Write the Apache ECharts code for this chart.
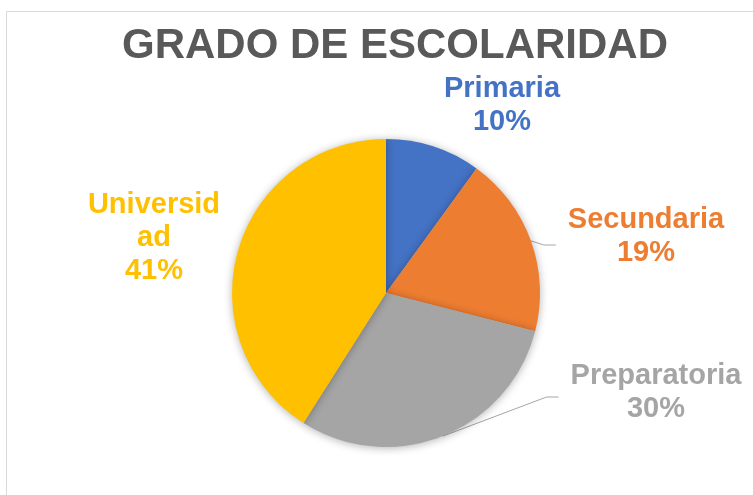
<!DOCTYPE html>
<html lang="es">
<head>
    <meta charset="UTF-8">
    <title>Grado de escolaridad</title>
    <script src="https://cdn.jsdelivr.net/npm/echarts@6/dist/echarts.min.js"></script>
    <style>
        html, body { margin: 0; padding: 0; background: #fff; }
        #main { width: 753px; height: 495px; }
    </style>
</head>
<body>
<div id="main"></div>
<script>
    // datos
    var categorias = ['Primaria', 'Secundaria', 'Preparatoria', 'Universidad'];
    var valores = [10, 19, 30, 41];
    var colores = ['#4472C4', '#ED7D31', '#A5A5A5', '#FFC000'];

    // posicion de cada etiqueta (centro del bloque de texto) y desfase vertical de la linea guia
    var posEtiquetas = [[502, 105], [646, 236], [656, 392], [154, 238]];
    var desfaseLinea = [0, 9, 5, 0];

    var chart = echarts.init(document.getElementById('main'));

    var datos = categorias.map(function (c, i) {
        var item = {
            name: c,
            value: valores[i],
            itemStyle: { color: colores[i] },
            label: { color: colores[i] }
        };
        // Primaria y Universidad sin linea guia
        if (i === 0 || i === 3) {
            item.labelLine = { show: false };
        }
        if (i === 3) {
            item.label.width = 136;
            item.label.overflow = 'breakAll';
        }
        return item;
    });

    var option = {
        backgroundColor: '#fff',
        title: {
            text: 'GRADO DE ESCOLARIDAD',
            left: 390,
            top: 20,
            textAlign: 'center',
            textStyle: {
                fontFamily: '"Liberation Sans", Arial, sans-serif',
                fontWeight: 'bold',
                fontSize: 42,
                color: '#595959'
            }
        },
        graphic: [{
            type: 'rect',
            silent: true,
            shape: { x: 6.5, y: 11.5, width: 900, height: 700 },
            style: { fill: 'none', stroke: '#D9D9D9', lineWidth: 1 }
        }],
        series: [{
            type: 'pie',
            center: [386, 293],
            radius: 154,
            startAngle: 90,
            clockwise: true,
            avoidLabelOverlap: false,
            itemStyle: {
                borderWidth: 0,
                shadowBlur: 8,
                shadowColor: 'rgba(0,0,0,0.3)',
                shadowOffsetY: 1
            },
            label: {
                show: true,
                position: 'outside',
                formatter: '{b}\n{d}%',
                fontFamily: '"Liberation Sans", Arial, sans-serif',
                fontWeight: 'bold',
                fontSize: 29,
                lineHeight: 33
            },
            labelLine: {
                show: true,
                length: 10,
                length2: 10,
                lineStyle: { color: '#A6A6A6', width: 1 }
            },
            labelLayout: function (params) {
                var i = params.dataIndex;
                var p = posEtiquetas[i];
                var w = params.labelRect.width;
                var izq = p[0] - w / 2;
                var res = { x: p[0], y: p[1], align: 'center', verticalAlign: 'middle' };
                if (params.labelLinePoints) {
                    var inicio = params.labelLinePoints[0];
                    var yl = p[1] + desfaseLinea[i];
                    res.labelLinePoints = [
                        [inicio[0], inicio[1]],
                        [izq - 24, yl],
                        [izq - 12, yl]
                    ];
                }
                return res;
            },
            emphasis: { disabled: true },
            data: datos
        }]
    };

    chart.setOption(option);
</script>
</body>
</html>
